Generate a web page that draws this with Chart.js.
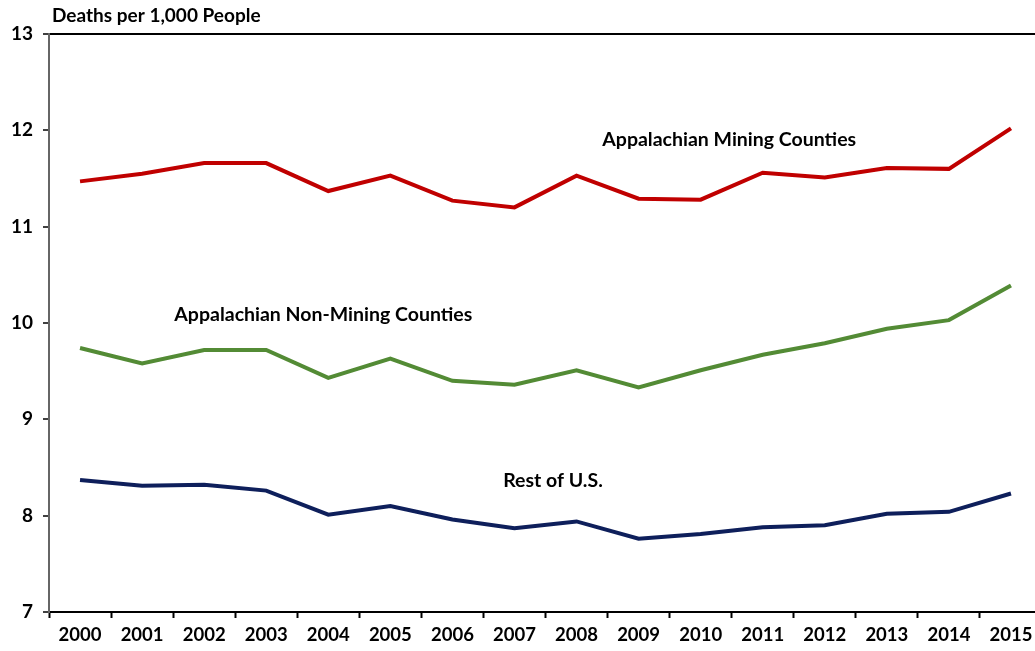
<!DOCTYPE html>
<html>
<head>
<meta charset="utf-8">
<script src="https://cdn.jsdelivr.net/npm/chart.js@4/dist/chart.umd.min.js"></script>
<style>
  html, body { margin: 0; padding: 0; background: #fff; overflow: hidden; }
  #wrap { width: 1035px; height: 651px; overflow: hidden; }
</style>
</head>
<body>
<div id="wrap"><canvas id="chart" width="1045" height="651"></canvas></div>
<script>
const years = ['2000', '2001', '2002', '2003', '2004', '2005', '2006', '2007',
  '2008', '2009', '2010', '2011', '2012', '2013', '2014', '2015'];

const mining = [11.47, 11.55, 11.66, 11.66, 11.37, 11.53, 11.27, 11.20,
  11.53, 11.29, 11.28, 11.56, 11.51, 11.61, 11.60, 12.02];
const nonMining = [9.74, 9.58, 9.72, 9.72, 9.43, 9.63, 9.40, 9.36,
  9.51, 9.33, 9.51, 9.67, 9.79, 9.94, 10.03, 10.39];
const restOfUS = [8.37, 8.31, 8.32, 8.26, 8.01, 8.10, 7.96, 7.87,
  7.94, 7.76, 7.81, 7.88, 7.90, 8.02, 8.04, 8.23];

const yTicks = [7, 8, 9, 10, 11, 12, 13];

// series labels placed in data coordinates: [category index, value]
const seriesLabels = [
  { text: 'Appalachian Mining Counties', at: [10.46, 11.9] },
  { text: 'Appalachian Non-Mining Counties', at: [3.92, 10.09] },
  { text: 'Rest of U.S.', at: [7.62, 8.36] }
];

const FONT = 'Lato, "Open Sans", sans-serif';

const textPlugin = {
  id: 'texts',
  afterDraw(chart) {
    const { ctx, chartArea, scales } = chart;
    ctx.save();
    ctx.fillStyle = '#000';
    ctx.font = 'bold 19px ' + FONT;
    ctx.textAlign = 'left';
    ctx.textBaseline = 'middle';
    ctx.fillText('Deaths per 1,000 People', chartArea.left + 3, 16);

    ctx.font = 'bold 19.5px ' + FONT;
    ctx.textAlign = 'center';
    seriesLabels.forEach(l => {
      const x = scales.x.getPixelForDecimal((l.at[0] + 0.5) / years.length);
      const y = scales.y.getPixelForValue(l.at[1]);
      ctx.fillText(l.text, x, y);
    });
    ctx.restore();
  }
};

new Chart(document.getElementById('chart'), {
  type: 'line',
  data: {
    labels: years,
    datasets: [
      { label: 'Appalachian Mining Counties', data: mining, borderColor: '#C00000' },
      { label: 'Appalachian Non-Mining Counties', data: nonMining, borderColor: '#538B35' },
      { label: 'Rest of U.S.', data: restOfUS, borderColor: '#0E1F5B' }
    ].map(d => Object.assign(d, { borderWidth: 4, pointRadius: 0, tension: 0, fill: false }))
  },
  options: {
    responsive: false,
    animation: false,
    layout: { padding: { top: 34, right: 3, left: 0, bottom: 0 } },
    plugins: {
      legend: { display: false },
      tooltip: { enabled: false }
    },
    scales: {
      x: {
        offset: true,
        afterFit(scale) { scale.height = 39; },
        grid: {
          offset: true,
          drawOnChartArea: false,
          tickLength: 6,
          tickColor: '#000',
          tickWidth: 2
        },
        border: { color: '#000', width: 2 },
        ticks: {
          color: '#000',
          padding: 6,
          font: { family: FONT, size: 18.5, weight: 'bold' },
          maxRotation: 0,
          autoSkip: false
        }
      },
      y: {
        min: 7,
        max: 13,
        afterFit(scale) { scale.width = 49; },
        afterBuildTicks(scale) { scale.ticks = yTicks.map(v => ({ value: v })); },
        grid: {
          color: c => (c.tick && c.tick.value === 13 ? '#000' : 'rgba(0,0,0,0)'),
          lineWidth: 2,
          tickLength: 6,
          tickColor: '#000',
          tickWidth: 1.5
        },
        border: { color: '#666', width: 2 },
        ticks: {
          color: '#000',
          padding: 10,
          font: { family: FONT, size: 19, weight: 'bold' }
        }
      }
    }
  },
  plugins: [textPlugin]
});
</script>
</body>
</html>
